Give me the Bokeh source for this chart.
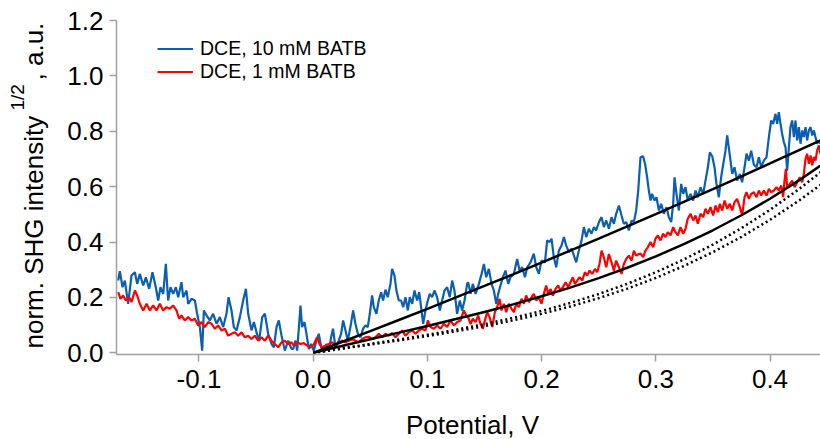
import math
from bokeh.plotting import figure
from bokeh.models import Range1d, FixedTicker, PrintfTickFormatter, Label, Legend, LegendItem
from bokeh.embed import file_html
from bokeh.resources import INLINE

# ---------------- data ----------------
blue_x = [-0.1707, -0.1693, -0.1669, -0.1649, -0.1620, -0.1591, -0.1561, -0.1541, -0.1518, -0.1488,
          -0.1465, -0.1436, -0.1407, -0.1378, -0.1357, -0.1337, -0.1313, -0.1290, -0.1270, -0.1249,
          -0.1226, -0.1202, -0.1182, -0.1153, -0.1138, -0.1109, -0.1094, -0.1065, -0.1036, -0.1016,
          -0.0992, -0.0972, -0.0957, -0.0934, -0.0905, -0.0876, -0.0846, -0.0817, -0.0788, -0.0759,
          -0.0741, -0.0715, -0.0695, -0.0671, -0.0642, -0.0613, -0.0589, -0.0569, -0.0540, -0.0519,
          -0.0496, -0.0473, -0.0446, -0.0423, -0.0394, -0.0365, -0.0344, -0.0321, -0.0301, -0.0277,
          -0.0248, -0.0219, -0.0190,
          -0.0175, -0.0155, -0.0140, -0.0111, -0.0097, -0.0076, -0.0059, -0.0038, -0.0018, 0.0005,
          0.0029, 0.0049, 0.0070, 0.0093, 0.0116, 0.0137, 0.0157, 0.0174, 0.0195, 0.0224,
          0.0245, 0.0262, 0.0283, 0.0303, 0.0326, 0.0350, 0.0370, 0.0391, 0.0414, 0.0437,
          0.0458, 0.0478, 0.0496, 0.0516, 0.0531, 0.0554, 0.0574, 0.0595, 0.0612, 0.0633,
          0.0653, 0.0677, 0.0691, 0.0712, 0.0729, 0.0750, 0.0770, 0.0788, 0.0808, 0.0829,
          0.0846, 0.0867, 0.0887, 0.0910, 0.0928, 0.0945, 0.0963, 0.0983, 0.1004, 0.1021,
          0.1042, 0.1062, 0.1085, 0.1109, 0.1129, 0.1150, 0.1173, 0.1196, 0.1217, 0.1237,
          0.1260, 0.1284, 0.1304, 0.1325, 0.1348,
          0.1357, 0.1378, 0.1398, 0.1422, 0.1451, 0.1474, 0.1495, 0.1515, 0.1538, 0.1562,
          0.1582, 0.1603, 0.1620, 0.1640, 0.1661, 0.1684, 0.1708, 0.1728, 0.1757, 0.1786,
          0.1807, 0.1830, 0.1854, 0.1874, 0.1903, 0.1932, 0.1953, 0.1976, 0.1999, 0.2029,
          0.2049, 0.2070, 0.2087, 0.2107, 0.2128, 0.2151, 0.2175, 0.2195, 0.2215, 0.2239,
          0.2262, 0.2283, 0.2303, 0.2326, 0.2350, 0.2370, 0.2391, 0.2414, 0.2437, 0.2458,
          0.2478, 0.2502, 0.2525, 0.2545, 0.2566, 0.2589, 0.2612, 0.2633, 0.2653, 0.2677,
          0.2700, 0.2720, 0.2741, 0.2764, 0.2788, 0.2808, 0.2828, 0.2846, 0.2866,
          0.2889, 0.2907, 0.2924, 0.2939, 0.2954, 0.2968, 0.2989, 0.3006, 0.3027, 0.3047,
          0.3070, 0.3094, 0.3114, 0.3135, 0.3152, 0.3164, 0.3181, 0.3202, 0.3222, 0.3240,
          0.3260, 0.3280, 0.3304, 0.3327, 0.3348, 0.3368, 0.3391, 0.3415, 0.3435, 0.3456,
          0.3473, 0.3494, 0.3514, 0.3531, 0.3552, 0.3572, 0.3590, 0.3610, 0.3625, 0.3639,
          0.3654, 0.3669, 0.3689, 0.3712, 0.3736, 0.3756, 0.3777, 0.3794, 0.3815, 0.3835,
          0.3858, 0.3882, 0.3902, 0.3923, 0.3946, 0.3969, 0.3990, 0.4010, 0.4028, 0.4048,
          0.4063, 0.4077, 0.4092, 0.4106, 0.4121, 0.4136, 0.4150, 0.4165, 0.4179, 0.4194,
          0.4209, 0.4223, 0.4238, 0.4253, 0.4267, 0.4282, 0.4296, 0.4311, 0.4325, 0.4340,
          0.4355, 0.4369, 0.4384, 0.4398, 0.4413, 0.4428, 0.4442]
blue_y = [0.261, 0.295, 0.237, 0.261, 0.177, 0.279, 0.291, 0.249, 0.285, 0.243,
          0.273, 0.231, 0.291, 0.237, 0.189, 0.237, 0.213, 0.321, 0.189, 0.237,
          0.213, 0.237, 0.201, 0.255, 0.201, 0.225, 0.177, 0.195, 0.189, 0.141,
          0.093, 0.008, 0.153, 0.135, 0.117, 0.141, 0.105, 0.129, 0.093, 0.141,
          0.201, 0.153, 0.093, 0.081, 0.129, 0.189, 0.231, 0.141, 0.081, 0.111,
          0.074, 0.044, 0.129, 0.141, 0.069, 0.032, 0.020, 0.093, 0.117, 0.062,
          0.008, 0.044, 0.014,
          0.014, 0.044, 0.008, 0.171, 0.093, 0.111, 0.069, 0.014, 0.032, 0.008,
          0.044, 0.069, 0.020, 0.002, 0.032, 0.008, 0.056, 0.087, 0.020, 0.044,
          0.069, 0.117, 0.081, 0.044, 0.093, 0.153, 0.105, 0.069, 0.056, 0.087,
          0.099, 0.093, 0.141, 0.207, 0.165, 0.141, 0.189, 0.219, 0.189, 0.228,
          0.201, 0.249, 0.303, 0.279, 0.225, 0.189, 0.189, 0.165, 0.201, 0.153,
          0.201, 0.177, 0.225, 0.189, 0.219, 0.165, 0.105, 0.153, 0.189, 0.213,
          0.201, 0.225, 0.201, 0.153, 0.189, 0.225, 0.237, 0.201, 0.261, 0.225,
          0.141, 0.189, 0.153, 0.189, 0.249,
          0.255, 0.213, 0.249, 0.213, 0.249, 0.285, 0.321, 0.273, 0.303, 0.249,
          0.225, 0.177, 0.213, 0.243, 0.273, 0.297, 0.249, 0.273, 0.285, 0.339,
          0.297, 0.309, 0.273, 0.309, 0.327, 0.358, 0.309, 0.285, 0.333, 0.327,
          0.406, 0.400, 0.412, 0.345, 0.309, 0.369, 0.388, 0.418, 0.388, 0.364,
          0.376, 0.351, 0.327, 0.369, 0.406, 0.454, 0.418, 0.448, 0.430, 0.454,
          0.442, 0.472, 0.490, 0.454, 0.478, 0.448, 0.490, 0.466, 0.502, 0.532,
          0.496, 0.466, 0.472, 0.442, 0.478, 0.472, 0.514, 0.586, 0.706,
          0.710, 0.680, 0.634, 0.586, 0.550, 0.574, 0.550, 0.562, 0.514, 0.538,
          0.502, 0.526, 0.490, 0.472, 0.538, 0.634, 0.574, 0.514, 0.610, 0.574,
          0.598, 0.550, 0.574, 0.550, 0.586, 0.562, 0.598, 0.574, 0.622, 0.670,
          0.724, 0.710, 0.670, 0.610, 0.562, 0.634, 0.680, 0.730, 0.785, 0.742,
          0.694, 0.646, 0.670, 0.622, 0.646, 0.616, 0.670, 0.719, 0.694, 0.730,
          0.680, 0.670, 0.706, 0.670, 0.694, 0.706, 0.779, 0.839, 0.827, 0.863,
          0.827, 0.869, 0.827, 0.791, 0.761, 0.742, 0.658, 0.742, 0.815, 0.839,
          0.779, 0.839, 0.767, 0.815, 0.755, 0.803, 0.779, 0.815, 0.767, 0.803,
          0.815, 0.785, 0.803, 0.779, 0.755, 0.767, 0.755]

red_x = [-0.1707, -0.1687, -0.1664, -0.1640, -0.1611, -0.1591, -0.1561, -0.1541, -0.1518, -0.1488,
         -0.1459, -0.1430, -0.1401, -0.1372, -0.1343, -0.1313, -0.1284, -0.1255, -0.1226, -0.1197,
         -0.1173, -0.1153, -0.1124, -0.1094, -0.1065, -0.1036, -0.1007, -0.0978, -0.0949, -0.0919,
         -0.0890, -0.0861, -0.0832, -0.0803, -0.0773, -0.0744, -0.0715, -0.0686, -0.0657, -0.0627,
         -0.0598, -0.0569, -0.0540, -0.0511, -0.0481, -0.0452, -0.0423, -0.0394, -0.0365, -0.0336,
         -0.0306, -0.0277, -0.0248, -0.0219, -0.0190,
         -0.0170, -0.0140, -0.0111, -0.0082, -0.0053, -0.0024, 0.0005, 0.0034, 0.0058, 0.0078,
         0.0107, 0.0137, 0.0166, 0.0195, 0.0224, 0.0253, 0.0283, 0.0312, 0.0341, 0.0370,
         0.0399, 0.0429, 0.0458, 0.0487, 0.0516, 0.0545, 0.0575, 0.0604, 0.0633, 0.0662,
         0.0691, 0.0721, 0.0750, 0.0779, 0.0808, 0.0837, 0.0867, 0.0896, 0.0925, 0.0954,
         0.0983, 0.1004, 0.1027, 0.1056, 0.1085, 0.1115, 0.1144, 0.1173, 0.1202, 0.1231,
         0.1261, 0.1290, 0.1319, 0.1348,
         0.1357, 0.1378, 0.1398, 0.1422, 0.1445, 0.1465, 0.1486, 0.1503, 0.1524, 0.1544,
         0.1568, 0.1591, 0.1611, 0.1632, 0.1649, 0.1670, 0.1690, 0.1713, 0.1737, 0.1757,
         0.1778, 0.1801, 0.1824, 0.1845, 0.1865, 0.1889, 0.1912, 0.1932, 0.1953, 0.1976,
         0.1999, 0.2020, 0.2040, 0.2058, 0.2078, 0.2099, 0.2122, 0.2145, 0.2166, 0.2186,
         0.2210, 0.2233, 0.2253, 0.2274, 0.2291, 0.2312, 0.2332, 0.2356, 0.2379, 0.2399,
         0.2420, 0.2443, 0.2467, 0.2487, 0.2507, 0.2525, 0.2545, 0.2566, 0.2589, 0.2612,
         0.2633, 0.2653, 0.2677, 0.2700, 0.2720, 0.2741, 0.2764, 0.2788, 0.2808, 0.2828,
         0.2851, 0.2866,
         0.2889, 0.2910, 0.2930, 0.2954, 0.2977, 0.2997, 0.3018, 0.3041, 0.3064, 0.3085,
         0.3105, 0.3129, 0.3152, 0.3172, 0.3193, 0.3216, 0.3240, 0.3260, 0.3280, 0.3304,
         0.3327, 0.3348, 0.3368, 0.3391, 0.3415, 0.3435, 0.3456, 0.3479, 0.3502, 0.3523,
         0.3543, 0.3561, 0.3581, 0.3602, 0.3625, 0.3648, 0.3669, 0.3689, 0.3712, 0.3736,
         0.3756, 0.3777, 0.3794, 0.3815, 0.3835, 0.3858, 0.3882, 0.3902, 0.3923, 0.3946,
         0.3969, 0.3990, 0.4010, 0.4034, 0.4057, 0.4077, 0.4098, 0.4115, 0.4127, 0.4139,
         0.4150, 0.4174, 0.4194, 0.4215, 0.4238, 0.4261, 0.4282, 0.4296, 0.4311, 0.4325,
         0.4340, 0.4355, 0.4369, 0.4384, 0.4398, 0.4413, 0.4428, 0.4442]
red_y = [0.219, 0.195, 0.207, 0.189, 0.201, 0.183, 0.225, 0.207, 0.177, 0.153,
         0.177, 0.153, 0.171, 0.153, 0.177, 0.153, 0.165, 0.159, 0.171, 0.153,
         0.123, 0.135, 0.117, 0.129, 0.117, 0.123, 0.099, 0.111, 0.093, 0.111,
         0.105, 0.087, 0.099, 0.081, 0.087, 0.062, 0.069, 0.074, 0.062, 0.074,
         0.056, 0.062, 0.050, 0.062, 0.044, 0.056, 0.044, 0.062, 0.044, 0.032,
         0.020, 0.038, 0.044, 0.032, 0.038,
         0.026, 0.038, 0.032, 0.035, 0.026, 0.020, 0.030, 0.056, 0.030, 0.020,
         0.026, 0.032, 0.038, 0.026, 0.038, 0.044, 0.038, 0.044, 0.050, 0.044,
         0.038, 0.050, 0.056, 0.058, 0.050, 0.056, 0.069, 0.056, 0.069, 0.062,
         0.071, 0.056, 0.069, 0.081, 0.062, 0.074, 0.081, 0.069, 0.081, 0.087,
         0.081, 0.117, 0.093, 0.087, 0.099, 0.087, 0.105, 0.093, 0.117, 0.099,
         0.111, 0.117, 0.153, 0.129,
         0.129, 0.104, 0.123, 0.111, 0.135, 0.104, 0.087, 0.117, 0.147, 0.129,
         0.093, 0.147, 0.165, 0.195, 0.153, 0.177, 0.147, 0.177, 0.159, 0.147,
         0.177, 0.165, 0.195, 0.177, 0.207, 0.183, 0.201, 0.213, 0.189, 0.201,
         0.177, 0.213, 0.243, 0.213, 0.231, 0.207, 0.231, 0.243, 0.225, 0.237,
         0.255, 0.237, 0.255, 0.273, 0.249, 0.261, 0.273, 0.261, 0.291, 0.279,
         0.297, 0.285, 0.303, 0.291, 0.321, 0.369, 0.345, 0.309, 0.357, 0.327,
         0.297, 0.333, 0.309, 0.285, 0.321, 0.339, 0.351, 0.333, 0.369, 0.351,
         0.357, 0.358,
         0.346, 0.370, 0.381, 0.400, 0.381, 0.412, 0.424, 0.406, 0.430, 0.418,
         0.436, 0.424, 0.454, 0.436, 0.424, 0.454, 0.430, 0.448, 0.484, 0.502,
         0.478, 0.496, 0.466, 0.502, 0.490, 0.520, 0.502, 0.526, 0.496, 0.532,
         0.508, 0.538, 0.514, 0.550, 0.520, 0.538, 0.514, 0.544, 0.556, 0.526,
         0.496, 0.562, 0.580, 0.556, 0.574, 0.580, 0.562, 0.586, 0.568, 0.586,
         0.568, 0.592, 0.580, 0.586, 0.598, 0.586, 0.604, 0.562, 0.622, 0.664,
         0.598, 0.610, 0.622, 0.598, 0.616, 0.634, 0.616, 0.646, 0.700, 0.719,
         0.683, 0.713, 0.677, 0.707, 0.694, 0.731, 0.749, 0.719]

fit_x = [0.0, 0.025, 0.05, 0.075, 0.10, 0.125, 0.15, 0.175, 0.20, 0.225,
         0.25, 0.275, 0.30, 0.325, 0.35, 0.375, 0.40, 0.425, 0.4442]
fit_blue = [0.0, 0.0390, 0.0785, 0.1185, 0.159, 0.200, 0.2415, 0.2835, 0.326, 0.369,
            0.4125, 0.4565, 0.501, 0.546, 0.5915, 0.6375, 0.684, 0.731, 0.767]
fit_red = [0.0, 0.0249, 0.0491, 0.0730, 0.0972, 0.1219, 0.1477, 0.1750, 0.2042, 0.2356,
           0.2698, 0.3072, 0.3482, 0.3931, 0.4426, 0.4968, 0.5564, 0.6217, 0.676]
dot_upper = [0.0, 0.0161, 0.0320, 0.0482, 0.0652, 0.0835, 0.1036, 0.1260, 0.1513, 0.1800,
             0.2124, 0.2493, 0.2910, 0.3381, 0.3910, 0.4503, 0.5165, 0.5901, 0.652]
dot_lower = [0.0, 0.0150, 0.0298, 0.0448, 0.0606, 0.0777, 0.0963, 0.1172, 0.1407, 0.1674,
             0.1975, 0.2318, 0.2706, 0.3144, 0.3636, 0.4188, 0.4803, 0.5488, 0.6064]

x_ticks = [-0.1, 0.0, 0.1, 0.2, 0.3, 0.4]
y_ticks = [0.0, 0.2, 0.4, 0.6, 0.8, 1.0, 1.2]
legend_labels = ["DCE, 10 mM BATB", "DCE, 1 mM BATB"]
x_title = "Potential, V"
y_title_main = "norm. SHG intensity"
y_title_sup = "1/2"
y_title_tail = ", a.u."

# ---------------- layout ----------------
W, H = 820, 439
FL, FR, FT, FB = 116, 820, 20, 354          # where the axes box sits on the canvas
X0, X1 = -0.1722, 0.4442                    # axis extents
Y0, Y1 = -0.006, 1.2
SX = (FR - FL) / (X1 - X0)                  # px per unit
SY = (FB - FT) / (Y1 - Y0)
XL, XR = X0 - FL / SX, X1 + (W - FR) / SX   # ranges spanning the whole canvas
YB, YT = Y0 - (H - FB) / SY, Y1 + FT / SY
FONT = "Liberation Sans"
BLUE = "#0a5fb0"
RED = "#ff0000"
AXC = "#a0a0a0"

def px2x(px):
    return XL + px / SX

def py2y(py):
    return YB + (H - py) / SY

p = figure(width=W, height=H, output_backend="svg", toolbar_location=None,
           x_range=Range1d(XL, XR), y_range=Range1d(YB, YT), min_border=0)
p.title.visible = False
p.outline_line_color = None
p.xgrid.visible = False
p.ygrid.visible = False
p.background_fill_color = "white"
p.border_fill_color = "white"

for ax in (p.xaxis[0], p.yaxis[0]):
    ax.axis_line_color = AXC
    ax.axis_line_width = 1.5
    ax.major_tick_line_color = AXC
    ax.major_tick_line_width = 1.5
    ax.major_tick_out = 7
    ax.major_tick_in = 0
    ax.minor_tick_line_color = None
    ax.major_label_text_font = FONT
    ax.major_label_text_font_size = "26px"
    ax.major_label_text_color = "black"
    ax.formatter = PrintfTickFormatter(format="%.1f")

p.xaxis.ticker = FixedTicker(ticks=x_ticks)
p.yaxis.ticker = FixedTicker(ticks=y_ticks)
p.xaxis.fixed_location = Y0
p.yaxis.fixed_location = X0
p.xaxis.bounds = (X0, X1)
p.yaxis.bounds = (Y0, Y1)
p.xaxis.major_label_standoff = 8
p.yaxis.major_label_standoff = 6

r_blue = p.line(blue_x, blue_y, line_color=BLUE, line_width=2.2)
r_red = p.line(red_x, red_y, line_color=RED, line_width=2.2)
p.line(fit_x, dot_upper, line_color="black", line_width=2.5, line_dash="2 3")
p.line(fit_x, dot_lower, line_color="black", line_width=2.5, line_dash="2 3")
p.line(fit_x, fit_blue, line_color="black", line_width=2.5)
p.line(fit_x, fit_red, line_color="black", line_width=2.5)

legend = Legend(items=[LegendItem(label=legend_labels[0], renderers=[r_blue]),
                       LegendItem(label=legend_labels[1], renderers=[r_red])],
                location=(157, H - 82.5),
                glyph_width=36, glyph_height=21, label_height=21,
                label_standoff=7, spacing=0, padding=0, margin=0,
                border_line_color=None, background_fill_alpha=0,
                label_text_font=FONT, label_text_font_size="19.5px",
                label_text_color="black")
p.add_layout(legend)

# axis titles
p.add_layout(Label(x=px2x(472), y=py2y(424), text=x_title, text_font=FONT,
                   text_font_size="26px", text_align="center", text_baseline="alphabetic",
                   text_color="black"))
p.add_layout(Label(x=px2x(33), y=py2y(348), text=y_title_main, angle=math.pi / 2,
                   text_font=FONT, text_font_size="26px", text_align="left",
                   text_baseline="alphabetic", text_color="black"))
p.add_layout(Label(x=px2x(16.5), y=py2y(110), text=y_title_sup, angle=math.pi / 2,
                   text_font=FONT, text_font_size="19px", text_align="left",
                   text_baseline="alphabetic", text_color="black"))
p.add_layout(Label(x=px2x(33), y=py2y(80), text=y_title_tail, angle=math.pi / 2,
                   text_font=FONT, text_font_size="26px", text_align="left",
                   text_baseline="alphabetic", text_color="black"))

open("out.html", "w").write(file_html(p, INLINE))
